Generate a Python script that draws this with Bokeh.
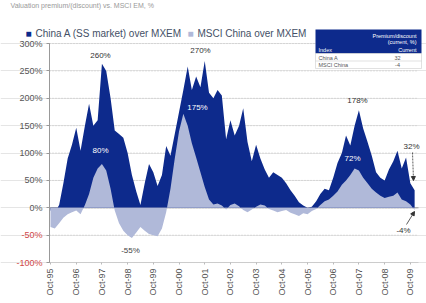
import pandas as pd
from bokeh.plotting import figure
from bokeh.models import (FixedTicker, DatetimeTickFormatter, PrintfTickFormatter, LinearAxis,
                          Label, Arrow, NormalHead, Range1d)
from bokeh.embed import file_html
from bokeh.resources import INLINE

# ---------------- data (bi-monthly readings, % premium over MSCI EM) ----------------
dates = pd.date_range("1995-10-01", periods=86, freq="2MS")
china_a = [-5, -8, 5, 45, 90, 115, 146, 104, 150, 190, 150, 160, 263, 250, 200, 141,
           135, 128, 100, 60, 30, 5, 45, 80, 65, 40, 60, 113, 95, 135, 175, 215,
           258, 215, 240, 220, 268, 210, 200, 215, 205, 125, 160, 132, 150, 182, 120, 85,
           115, 90, 70, 55, 65, 60, 55, 45, 32, 22, 10, 4, 0, 2, 12, 25,
           35, 32, 55, 82, 100, 132, 114, 150, 178, 145, 120, 95, 65, 55, 50, 70,
           85, 104, 72, 92, 45, 32]
msci_china = [-35, -38, -28, -18, -12, -8, -5, -12, 5, 25, 55, 72, 80, 68, 35, -5,
              -28, -42, -50, -55, -45, -35, -42, -48, -50, -52, -38, -8, 35, 90, 140, 172,
              150, 118, 92, 65, 38, 15, 6, 8, 4, -3, 5, 8, 3, -4, -8, -3,
              2, 6, 4, -2, -5, -8, -6, -4, -9, -12, -15, -10, -12, -6, -2, 5,
              12, 15, 22, 30, 42, 50, 60, 72, 68, 55, 45, 35, 28, 22, 18, 20,
              22, 28, 15, 12, 6, -4]
tick_years = list(range(1995, 2010))
y_ticks_pos = [0, 50, 100, 150, 200, 250, 300]
y_ticks_neg = [-100, -50]
series_names = ["China A (SS market) over MXEM", "MSCI China over MXEM"]
peak_labels = ["260%", "270%", "178%"]
inner_labels = ["80%", "175%", "72%"]
end_labels = ["32%", "-4%"]
trough_label = "-55%"

DARK = "#0d2a8c"
LIGHT = "#b0b9d9"
FONT = "Liberation Sans"
W, H = 426, 303

# ---------------- helpers to place annotations (page pixel -> data) ----------------
X0 = pd.Timestamp("1995-10-01")
PX_PER_DAY = 25.7 / 365.25


def xd(px):
    return (X0 + pd.Timedelta(days=(px - 50) / PX_PER_DAY)).value / 1e6


def yd(py):
    return (207.3 - py) / 0.5475


p = figure(width=W, height=H, x_axis_type="datetime", y_axis_location=None,
           x_range=Range1d(xd(0), xd(W)), y_range=Range1d(yd(H), yd(0)),
           output_backend="svg", toolbar_location=None,
           min_border_left=0, min_border_right=0, min_border_top=0, min_border_bottom=0)
p.outline_line_color = None
p.background_fill_color = "white"
p.border_fill_color = "white"
p.xgrid.grid_line_color = None

# dotted horizontal grid lines (only across the plotting area, right of the y axis)
grid_y = y_ticks_neg + y_ticks_pos
p.segment(x0=[xd(49)] * len(grid_y), x1=[xd(418)] * len(grid_y), y0=grid_y, y1=grid_y,
          line_color="#c4c4c4", line_dash="1 2", line_width=1)
p.segment(x0=[xd(49)], x1=[xd(418)], y0=[0], y1=[0], line_color="#999999", line_width=1)

# areas
r_a = p.varea(x=dates, y1=0, y2=china_a, fill_color=DARK)
r_m = p.varea(x=dates, y1=0, y2=msci_china, fill_color=LIGHT)

# y axes (positive labels grey, negative labels red), drawn at the left edge of the plot
for ticks, col in [(y_ticks_pos, "#555555"), (y_ticks_neg, "#d04848")]:
    ax = LinearAxis(ticker=FixedTicker(ticks=ticks), formatter=PrintfTickFormatter(format="%d%%"),
                    fixed_location=xd(49))
    ax.bounds = (-100, 300)
    ax.axis_line_color = "#999999"
    ax.major_tick_line_color = "#999999"
    ax.major_tick_out = 3
    ax.major_tick_in = 0
    ax.minor_tick_line_color = None
    ax.major_label_standoff = 4
    ax.major_label_text_font = FONT
    ax.major_label_text_font_size = "9px"
    ax.major_label_text_color = col
    p.add_layout(ax, "left")

# x axis (drawn along the -100% line)
p.xaxis.fixed_location = -100
p.xaxis.ticker = FixedTicker(ticks=[pd.Timestamp(f"{y}-10-01").value / 1e6 for y in tick_years])
fmt = "%b-%y"
p.xaxis.formatter = DatetimeTickFormatter(microseconds=fmt, milliseconds=fmt, seconds=fmt,
                                          minsec=fmt, minutes=fmt, hourmin=fmt, hours=fmt,
                                          days=fmt, months=fmt, years=fmt)
p.xaxis.bounds = (xd(49), xd(418))
p.xaxis.major_label_orientation = 1.5708
p.xaxis.axis_line_color = "#cccccc"
p.xaxis.major_tick_line_color = "#bbbbbb"
p.xaxis.major_tick_out = 2
p.xaxis.major_tick_in = 0
p.xaxis.minor_tick_line_color = None
p.xaxis.major_label_standoff = 4
p.xaxis.major_label_text_font = FONT
p.xaxis.major_label_text_font_size = "9px"
p.xaxis.major_label_text_color = "#555555"

# title line (top, partly cropped in the reference)
p.add_layout(Label(x=xd(10), y=yd(5), text="Valuation premium/(discount) vs. MSCI EM, %",
                   text_font=FONT, text_font_size="7px", text_color="#999999",
                   text_baseline="middle"))

# legend
leg = [("■", 25, DARK), (series_names[0], 35, "#445066"),
       ("■", 187, LIGHT), (series_names[1], 197, "#445066")]
for txt, px, col in leg:
    p.add_layout(Label(x=xd(px), y=yd(33), text=txt, text_color=col, text_font=FONT,
                       text_font_size="10px", text_baseline="middle"))

# table in top right
p.quad(left=[xd(315)], right=[xd(421)], bottom=[yd(53)], top=[yd(29)], fill_color=DARK, line_color=None)
p.quad(left=[xd(315)], right=[xd(421)], bottom=[yd(68)], top=[yd(53)], fill_color="white",
       line_color="#cccccc", line_width=0.6)
p.segment(x0=[xd(315)], x1=[xd(421)], y0=[yd(60.5)], y1=[yd(60.5)], line_color="#cccccc", line_width=0.6)
tbl = [("Premium/discount", 416, 35, "right", "white"),
       ("(current, %)", 416, 41, "right", "white"),
       ("Index", 318, 49.5, "left", "white"),
       ("Current", 416, 49.5, "right", "white"),
       ("China A", 318, 57, "left", "#555555"),
       (end_labels[0][:-1], 397, 57, "center", "#555555"),
       ("MSCI China", 318, 64.5, "left", "#555555"),
       (end_labels[1][:-1], 397, 64.5, "center", "#555555")]
for txt, px, py, al, col in tbl:
    p.add_layout(Label(x=xd(px), y=yd(py), text=txt, text_align=al, text_baseline="middle",
                       text_font=FONT, text_font_size="5.5px", text_color=col))

# annotations
ann = [(peak_labels[0], 100, 55, "#333333"),
       (peak_labels[1], 200, 50, "#333333"),
       (peak_labels[2], 357, 100, "#333333"),
       (inner_labels[0], 100, 150, "white"),
       (inner_labels[1], 197, 107, "white"),
       (inner_labels[2], 352, 158, "white"),
       (trough_label, 130, 250, "#444444")]
for txt, px, py, col in ann:
    p.add_layout(Label(x=xd(px), y=yd(py), text=txt, text_align="center", text_baseline="middle",
                       text_font=FONT, text_font_size="8px", text_color=col))

p.add_layout(Label(x=xd(419), y=yd(146), text=end_labels[0], text_align="right", text_baseline="middle",
                   text_font=FONT, text_font_size="8px", text_color="#333333"))
p.add_layout(Label(x=xd(403), y=yd(230), text=end_labels[1], text_align="center", text_baseline="middle",
                   text_font=FONT, text_font_size="8px", text_color="#333333"))
p.add_layout(Arrow(x_start=xd(412), y_start=yd(152), x_end=xd(413), y_end=yd(180),
                   end=NormalHead(size=4, fill_color="#333333", line_color="#333333"),
                   line_color="#333333", line_width=0.8, line_dash="2 1"))
p.add_layout(Arrow(x_start=xd(406), y_start=yd(224), x_end=xd(414), y_end=yd(211),
                   end=NormalHead(size=4, fill_color="#333333", line_color="#333333"),
                   line_color="#333333", line_width=0.8))

open("out.html", "w").write(file_html(p, INLINE))
